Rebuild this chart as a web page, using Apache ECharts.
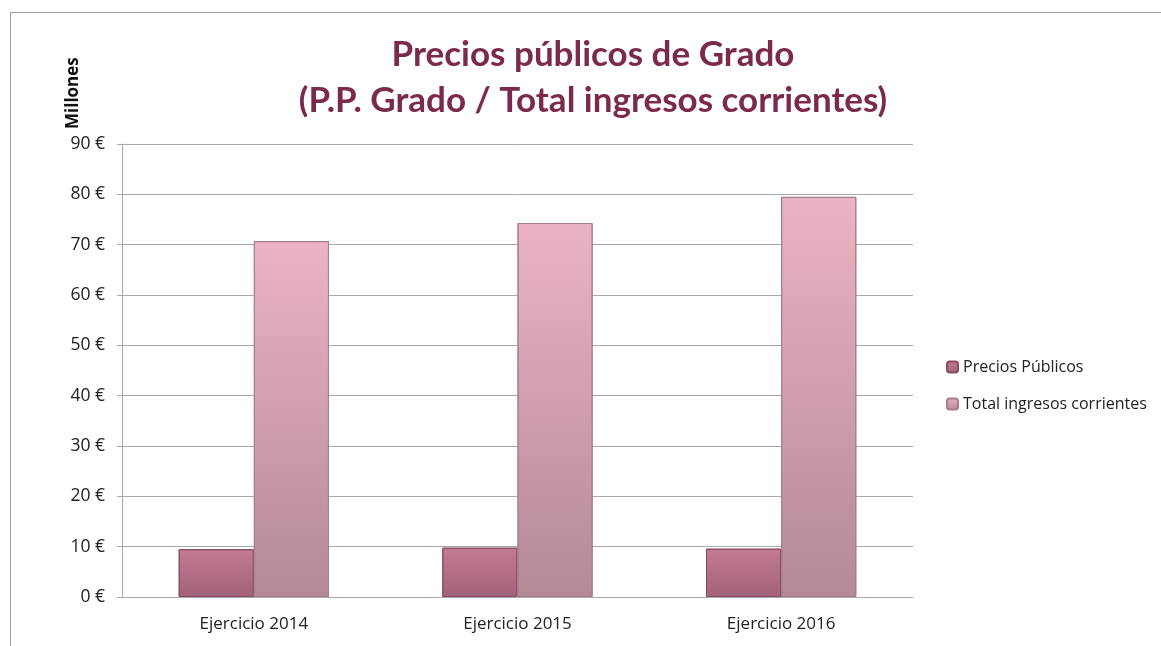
<!DOCTYPE html>
<html>
<head>
<meta charset="utf-8">
<script src="https://cdn.jsdelivr.net/npm/echarts@6/dist/echarts.min.js"></script>
<style>
  html, body { margin: 0; padding: 0; background: #fff; }
  #chart { width: 1161px; height: 646px; }
</style>
</head>
<body>
<div id="chart"></div>
<script>
// Chart data
const categories = ['Ejercicio 2014', 'Ejercicio 2015', 'Ejercicio 2016'];
const preciosPublicos = [9.5, 9.8, 9.6];
const totalIngresos = [70.7, 74.3, 79.5];
const yTicks = [0, 10, 20, 30, 40, 50, 60, 70, 80, 90];

const chart = echarts.init(document.getElementById('chart'));
const titleFont = 'Lato, "Open Sans", sans-serif';
const font = '"Open Sans", Lato, sans-serif';

function vGrad(top, bottom) {
    return new echarts.graphic.LinearGradient(0, 0, 0, 1, [
        { offset: 0, color: top },
        { offset: 1, color: bottom }
    ]);
}

const option = {
    backgroundColor: '#fff',
    title: {
        text: 'Precios públicos de Grado\n(P.P. Grado / Total ingresos corrientes)',
        left: 588,
        top: 27,
        textAlign: 'center',
        textStyle: {
            fontFamily: titleFont,
            fontSize: 35,
            fontWeight: 'bold',
            color: '#7b2a4c',
            lineHeight: 46
        }
    },
    legend: {
        orient: 'vertical',
        left: 946,
        top: 359,
        padding: 0,
        itemWidth: 11,
        itemHeight: 11,
        itemGap: 21,
        textStyle: { fontFamily: font, fontSize: 16, color: '#222' },
        data: ['Precios Públicos', 'Total ingresos corrientes']
    },
    grid: {
        left: 122,
        right: 248,
        top: 144,
        bottom: 49
    },
    xAxis: {
        type: 'category',
        data: categories,
        axisTick: { show: false },
        axisLine: { lineStyle: { color: '#a8a8a8', width: 1 } },
        axisLabel: { fontFamily: font, fontSize: 17, color: '#222', margin: 19 }
    },
    yAxis: {
        type: 'value',
        min: yTicks[0],
        max: yTicks[yTicks.length - 1],
        interval: 10,
        axisLine: { show: true, lineStyle: { color: '#a8a8a8', width: 1 } },
        axisTick: { show: true, length: 5, lineStyle: { color: '#a8a8a8' } },
        splitLine: { lineStyle: { color: '#a8a8a8', width: 1 } },
        axisLabel: {
            fontFamily: font,
            fontSize: 17.5,
            color: '#222',
            margin: 17,
            formatter: v => v + ' €'
        }
    },
    graphic: [
        {
            type: 'rect',
            shape: { x: 10.5, y: 12.5, width: 1200, height: 700 },
            style: { fill: 'none', stroke: '#9a9a9a', lineWidth: 1 },
            silent: true
        },
        {
            type: 'text',
            x: 65,
            y: 129,
            rotation: Math.PI / 2,
            style: {
                text: 'Millones',
                fontFamily: font,
                fontSize: 17,
                fontWeight: 'bold',
                fill: '#111'
            }
        }
    ],
    series: [
        {
            name: 'Precios Públicos',
            type: 'bar',
            data: preciosPublicos,
            barGap: '0%',
            barCategoryGap: '43%',
            itemStyle: {
                color: vGrad('#c27b92', '#a2627a'),
                borderColor: '#8a4c62',
                borderWidth: 1
            }
        },
        {
            name: 'Total ingresos corrientes',
            type: 'bar',
            data: totalIngresos,
            barGap: '0%',
            barCategoryGap: '43%',
            itemStyle: {
                color: vGrad('#ebb3c3', '#b48996'),
                borderColor: '#a57e8b',
                borderWidth: 1
            }
        }
    ]
};

chart.setOption(option);
</script>
</body>
</html>
